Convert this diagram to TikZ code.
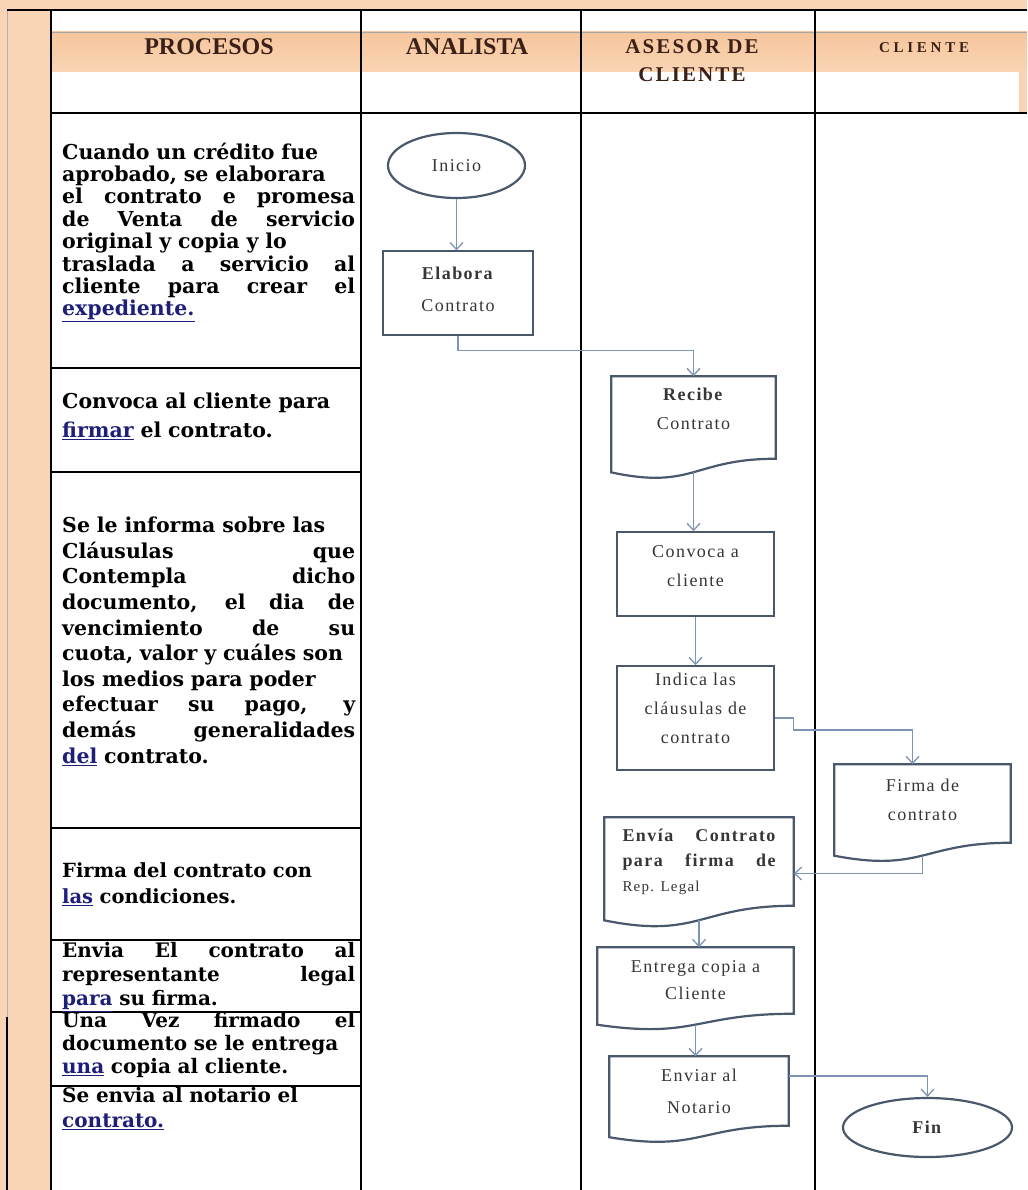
\documentclass[tikz,border=0pt]{standalone}
\usepackage{fontspec}
\usetikzlibrary{positioning,arrows.meta,calc,shapes.geometric}

\newfontfamily\procfont{DejaVu Serif}
\newfontfamily\headfont{Liberation Serif}
\newfontfamily\chartfont[LetterSpace=8]{Liberation Serif}

\definecolor{peach}{HTML}{F9D5B5}
\definecolor{peachdk}{HTML}{F6C59C}
\definecolor{headbrown}{HTML}{3A2016}
\definecolor{shapeblue}{HTML}{4A586C}
\definecolor{arrowblue}{HTML}{7E95B5}
\definecolor{charttext}{HTML}{363636}
\definecolor{spellnavy}{HTML}{1F1F7A}

% una linea justificada de la columna de procesos
\newcommand\jl[1]{\makebox[293pt][s]{\spaceskip=0pt\relax #1}}
% palabra marcada por el corrector
\newcommand\spell[1]{\textcolor{spellnavy}{\underline{#1}}}
\newcommand\procsize[2]{\procfont\bfseries\fontsize{#1}{#2}\selectfont}
% contorno de documento (borde inferior ondulado)
\newcommand\docoutline[1]{%
  \draw[shapeline] (#1.north west) -- (#1.north east) -- (#1.south east)
    .. controls (#1.south) and ($(#1.north)!1.38!(#1.south)$) ..
    ($(#1.north west)!1.165!(#1.south west)$) -- cycle;
  \coordinate (#1-b) at ($(#1.north)!1.163!(#1.south)$);}

\begin{document}
\begin{tikzpicture}[x=1pt,y=-1pt,
  tableline/.style={black,line width=1.6pt},
  shapeline/.style={draw=shapeblue,line width=2.2pt},
  boxnode/.style={draw=shapeblue,line width=1.5pt,fill=white,inner sep=0pt,align=center,
    font=\chartfont\fontsize{18}{29}\selectfont,text=charttext},
  docnode/.style={boxnode,draw=none,fill=none},
  endnode/.style={boxnode,ellipse,line width=2.2pt},
  flow/.style={draw=arrowblue,line width=1.3pt,-{Straight Barb[length=7pt,width=13pt]}},
  proctext/.style={anchor=north west,inner sep=0pt,text width=293pt,align=left},
  headtext/.style={inner sep=0pt,align=center,text=headbrown}]
  \useasboundingbox (0,0) rectangle (1027,1190);
  \fill[white] (0,0) rectangle (1027,1190);
  % fondo naranja
  \fill[peach] (0,0) rectangle (1027,9);
  \fill[peach] (0,0) rectangle (51,1190);
  \shade[top color=peachdk,bottom color=peach] (51,32) rectangle (1027,72);
  \fill[peach] (1019,72) rectangle (1027,113);
  % tabla
  \draw[gray!60,line width=0.8pt] (7,10) -- (7,1017);
  \draw[tableline] (7,1017) -- (7,1190);
  \draw[gray!70,line width=0.8pt] (51,32) -- (1027,32);
  \draw[tableline] (7,10) -- (1027,10);
  \draw[tableline] (51,113) -- (1027,113);
  \foreach \cx in {51,361,581,815} \draw[tableline] (\cx,10) -- (\cx,1190);
  \foreach \ry in {368,472,828,940,1012,1086} \draw[tableline] (51,\ry) -- (361,\ry);

  % encabezados
  \node[headtext,font=\headfont\bfseries\fontsize{24}{28}\selectfont] (hproc) at (209,47) {PROCESOS};
  \node[headtext,font=\headfont\bfseries\fontsize{24}{28}\selectfont] (hanal) at (467,47) {ANALISTA};
  \node[headtext,font=\headfont\bfseries\fontsize{21}{28}\selectfont\addfontfeature{LetterSpace=10}] (hases) at (692,61) {ASESOR DE\\CLIENTE};
  \node[headtext,font=\headfont\bfseries\fontsize{15}{20}\selectfont\addfontfeature{LetterSpace=25}] (hcli) at (924,48) {CLIENTE};

  % columna de procesos
  \node[proctext,font=\procsize{20.5}{22.4}] (p1) at (62,142.5) {Cuando un crédito fue\\
    aprobado, se elaborara\\ \jl{el contrato e promesa}\\ \jl{de Venta de servicio}\\
    original y copia y lo\\ \jl{traslada a servicio al}\\ \jl{cliente para crear el}\\
    \spell{expediente.}};
  \node[proctext,font=\procsize{20.5}{29}] (p2) at (62,392.5) {Convoca al cliente para\\
    \spell{firmar} el contrato.};
  \node[proctext,font=\procsize{20.5}{25.6}] (p3) at (62,517) {Se le informa sobre las\\
    \jl{Cláusulas que}\\ \jl{Contempla dicho}\\ \jl{documento, el dia de}\\
    \jl{vencimiento de su}\\ cuota, valor y cuáles son\\ los medios para poder\\
    \jl{efectuar su pago, y}\\ \jl{demás generalidades}\\ \spell{del} contrato.};
  \node[proctext,font=\procsize{19.5}{26}] (p4) at (62,862) {Firma del contrato con\\
    \spell{las} condiciones.};
  \node[proctext,font=\procsize{20}{24}] (p5) at (62,942) {\jl{Envia El contrato al}\\
    \jl{representante legal}\\ \spell{para} su firma.};
  \node[proctext,font=\procsize{20}{23}] (p6) at (62,1012.5) {\jl{Una Vez firmado el}\\
    documento se le entrega\\ \spell{una} copia al cliente.};
  \node[proctext,font=\procsize{20}{25}] (p7) at (62,1087) {Se envia al notario el\\
    \spell{contrato.}};

  % diagrama de flujo
  \node[endnode,minimum width=137pt,minimum height=65pt] (ini) at (456.5,165.5) {Inicio};
  \node[boxnode,minimum width=150pt,minimum height=84pt,line width=1.2pt,text depth=8pt,
    font=\chartfont\fontsize{18}{32}\selectfont] (elab) at (458,293) {\textbf{Elabora}\\Contrato};
  \node[docnode,minimum width=163pt,minimum height=81pt,text depth=18pt] (rec) at (693.5,417.5) {\textbf{Recibe}\\Contrato};
  \node[boxnode,minimum width=157pt,minimum height=84pt,text depth=16pt] (conv) at (695.5,574) {Convoca a\\cliente};
  \node[boxnode,minimum width=157pt,minimum height=104pt,text depth=20pt] (ind) at (695.5,718) {Indica las\\cláusulas de\\contrato};
  \node[docnode,minimum width=175pt,minimum height=77pt,text depth=8pt] (firma) at (922.5,803.5) {Firma de\\contrato};
  \node[docnode,minimum width=188pt,minimum height=87pt,align=left,
    font=\chartfont\fontsize{18}{25}\selectfont] (env) at (699,861.5)
    {\textbf{\makebox[153pt][s]{Envía Contrato}}\\ \textbf{\makebox[153pt][s]{para firma de}}\\
     {\fontsize{15}{20}\selectfont Rep. Legal}};
  \node[docnode,minimum width=195pt,minimum height=65pt,
    font=\chartfont\fontsize{18}{27}\selectfont] (ent) at (695.5,980.5) {Entrega copia a\\Cliente};
  \node[docnode,minimum width=178pt,minimum height=68pt,
    font=\chartfont\fontsize{18}{32}\selectfont] (envn) at (699,1091) {Enviar al\\Notario};
  \node[endnode,minimum width=169pt,minimum height=59pt] (fin) at (927.5,1127.5) {\textbf{Fin}};

  \docoutline{rec}
  \docoutline{firma}
  \docoutline{env}
  \docoutline{ent}
  \docoutline{envn}

  % conectores
  \draw[flow] (ini.south) -- (ini.south |- elab.north);
  \draw[flow] (elab.south) -- ++(0,15) -| (rec.north);
  \draw[flow] (rec-b) -- (rec-b |- conv.north);
  \draw[flow] (conv.south) -- (ind.north);
  \draw[flow] (ind.east) -- ++(19,0) -- ++(0,12) -| ([xshift=-10pt]firma.north);
  \draw[flow] (firma-b) |- ([yshift=-12pt]env.east);
  \draw[flow] (env-b) -- (env-b |- ent.north);
  \draw[flow] (ent-b) -- (ent-b |- envn.north);
  \draw[flow] ([yshift=15pt]envn.east) -| (fin.north);
\end{tikzpicture}
\end{document}
